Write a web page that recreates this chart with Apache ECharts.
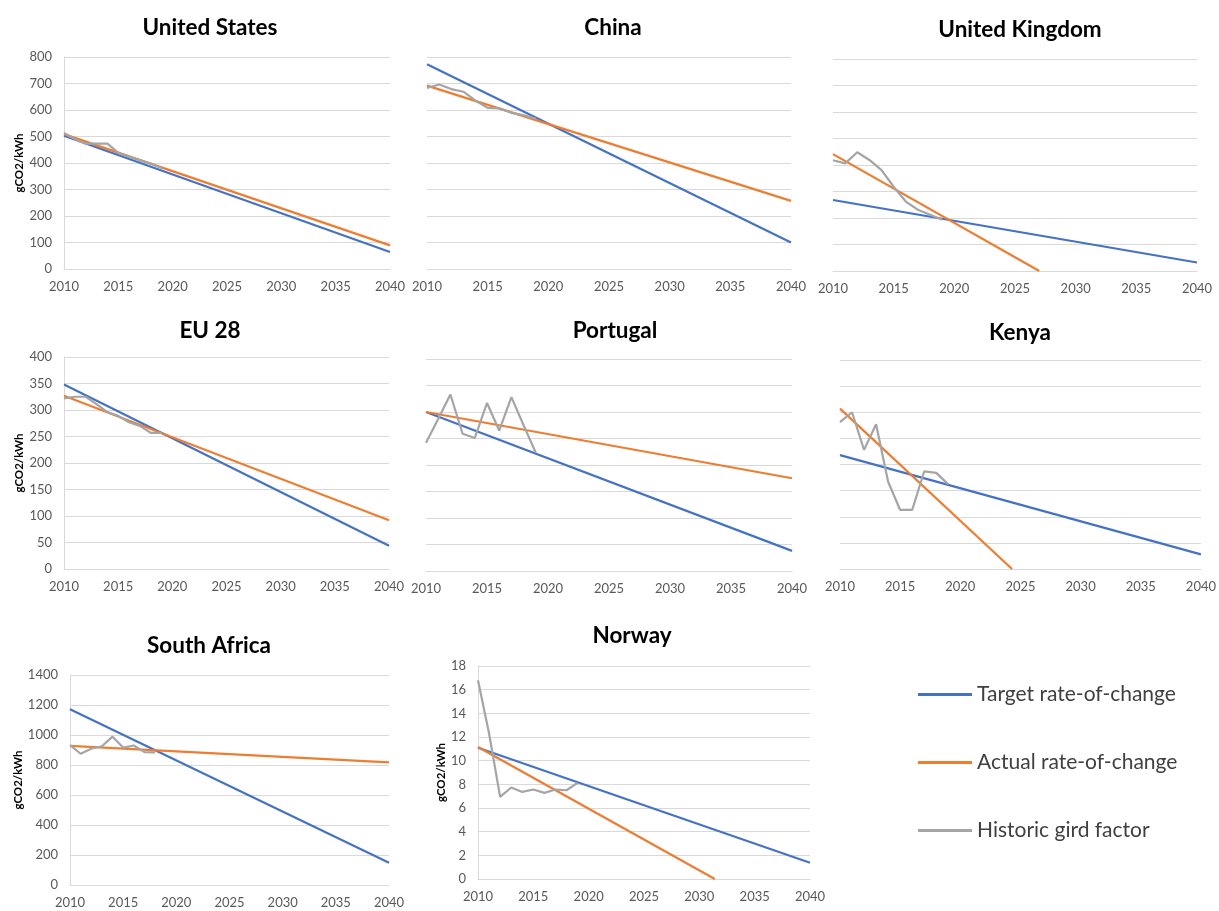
<!DOCTYPE html>
<html>
<head>
<meta charset="utf-8">
<script src="https://cdn.jsdelivr.net/npm/echarts@6/dist/echarts.min.js"></script>
<style>
html,body{margin:0;padding:0;background:#fff;}
#c{width:1219px;height:911px;}
</style>
</head>
<body>
<div id="c"></div>
<script>
// ---------- data ----------
const histYears = [2010, 2011, 2012, 2013, 2014, 2015, 2016, 2017, 2018, 2019];
const trendYears = [2010, 2040];
const xTicks = [2010, 2015, 2020, 2025, 2030, 2035, 2040];

const usHist = [513, 490, 473, 473, 473, 438, 423, 410, 398, 381];
const usTarget = [503, 64];
const usActual = [509, 89];
const usActualYears = [2010, 2040];

const cnHist = [683, 696, 679, 669, 635, 608, 606, 589, 580, 567];
const cnTarget = [773, 100];
const cnActual = [692, 257];
const cnActualYears = [2010, 2040];

const ukHist = [418, 406, 448, 419, 381, 318, 262, 231, 212, 193];
const ukTarget = [268, 32];
const ukActual = [441, 0];
const ukActualYears = [2010, 2027];

const euHist = [322, 325, 325, 311, 296, 289, 277, 270, 257, 257];
const euTarget = [348, 44];
const euActual = [327, 92];
const euActualYears = [2010, 2040];

const ptHist = [242, 287, 333, 259, 251, 317, 265, 328, 275, 223];
const ptTarget = [300, 38];
const ptActual = [300, 175];
const ptActualYears = [2010, 2040];

const keHist = [281, 300, 228, 277, 167, 113, 113, 187, 184, 162];
const keTarget = [218, 28];
const keActual = [307, 0];
const keActualYears = [2010, 2024.3];

const zaHistYears = [2010, 2011, 2012, 2013, 2014, 2015, 2016, 2017, 2018];
const zaHist = [932, 875, 909, 925, 989, 916, 930, 886, 884];
const zaTarget = [1171, 149];
const zaActual = [927, 818];
const zaActualYears = [2010, 2040];

const noHist = [16.8, 12.3, 6.94, 7.73, 7.36, 7.56, 7.28, 7.56, 7.5, 8.13];
const noTarget = [11.09, 1.38];
const noActual = [11.15, 0];
const noActualYears = [2010, 2031.4];

const titles = ['United States', 'China', 'United Kingdom', 'EU 28', 'Portugal', 'Kenya', 'South Africa', 'Norway'];
const seriesNames = ['Target rate-of-change', 'Actual rate-of-change', 'Historic gird factor'];
const yName = 'gCO2/kWh';

// ---------- layout ----------
const FONT = 'Lato';
const panels = [
  {title: titles[0], grid: {left: 64, top: 57, width: 326, height: 212}, tx: 205, ty: 11, y: [0, 800, 100], labels: true, hist: [histYears, usHist], target: usTarget, actual: [usActualYears, usActual]},
  {title: titles[1], grid: {left: 427, top: 57, width: 364, height: 212}, tx: 608, ty: 11, y: [0, 800, 100], labels: false, hist: [histYears, cnHist], target: cnTarget, actual: [cnActualYears, cnActual]},
  {title: titles[2], grid: {left: 833, top: 59, width: 364, height: 212}, tx: 1015, ty: 13, y: [0, 800, 100], labels: false, hist: [histYears, ukHist], target: ukTarget, actual: [ukActualYears, ukActual]},
  {title: titles[3], grid: {left: 64, top: 357, width: 325, height: 212}, tx: 205, ty: 314, y: [0, 400, 50], labels: true, hist: [histYears, euHist], target: euTarget, actual: [euActualYears, euActual]},
  {title: titles[4], grid: {left: 426, top: 359, width: 366, height: 212}, tx: 610, ty: 314, y: [0, 400, 50], labels: false, hist: [histYears, ptHist], target: ptTarget, actual: [ptActualYears, ptActual]},
  {title: titles[5], grid: {left: 840, top: 360, width: 363, height: 209}, tx: 1015, ty: 316, y: [0, 400, 50], labels: false, hist: [histYears, keHist], target: keTarget, actual: [keActualYears, keActual]},
  {title: titles[6], grid: {left: 70, top: 675, width: 319, height: 210}, tx: 204, ty: 629, y: [0, 1400, 200], labels: true, hist: [zaHistYears, zaHist], target: zaTarget, actual: [zaActualYears, zaActual]},
  {title: titles[7], grid: {left: 478, top: 666, width: 332, height: 213}, tx: 627, ty: 619, y: [0, 18, 2], labels: true, hist: [histYears, noHist], target: noTarget, actual: [noActualYears, noActual]}
];

const colors = ['#4472C4', '#ED7D31', '#A5A5A5'];
const pairs = (xs, ys) => xs.map((x, i) => [x, ys[i]]);

const option = {
  animation: false,
  backgroundColor: '#ffffff',
  title: [],
  grid: [],
  xAxis: [],
  yAxis: [],
  series: [],
  legend: {
    orient: 'vertical',
    left: 913,
    top: 679,
    itemWidth: 54,
    itemHeight: 3,
    itemGap: 47,
    icon: 'rect',
    data: seriesNames,
    textStyle: {fontFamily: FONT, fontSize: 21, color: '#404040', padding: [0, 0, 0, 0]}
  }
};

panels.forEach((p, i) => {
  option.title.push({
    text: p.title, left: p.tx, top: p.ty, textAlign: 'center',
    textStyle: {fontFamily: FONT, fontWeight: 'bold', fontSize: 22.5, color: '#000'}
  });
  option.grid.push(p.grid);
  option.xAxis.push({
    type: 'value', gridIndex: i, min: 2010, max: 2040, interval: 5,
    axisLine: {show: true, lineStyle: {color: '#d9d9d9', width: 1}},
    axisTick: {show: false},
    splitLine: {show: false},
    axisLabel: {fontFamily: FONT, fontSize: 13, color: '#595959', margin: 11,
      formatter: v => String(v), showMinLabel: true, showMaxLabel: true}
  });
  option.yAxis.push({
    type: 'value', gridIndex: i, min: p.y[0], max: p.y[1], interval: p.y[2],
    name: p.labels ? yName : '', nameLocation: 'middle', nameGap: i === 7 ? 30 : 37,
    nameTextStyle: {fontFamily: FONT, fontWeight: 'bold', fontSize: 11.5, color: '#000'},
    axisLine: {show: p.labels, lineStyle: {color: '#d9d9d9', width: 1}},
    axisTick: {show: false},
    splitLine: {show: true, lineStyle: {color: '#d9d9d9', width: 1}},
    axisLabel: {show: p.labels, fontFamily: FONT, fontSize: 13, color: '#595959', margin: 12,
      formatter: v => String(v)}
  });
  const common = {type: 'line', xAxisIndex: i, yAxisIndex: i, symbol: 'none', clip: true, silent: true};
  option.series.push(Object.assign({}, common, {
    name: seriesNames[0], data: pairs(trendYears, p.target),
    lineStyle: {color: colors[0], width: 2.2}, itemStyle: {color: colors[0]}
  }));
  option.series.push(Object.assign({}, common, {
    name: seriesNames[1], data: pairs(p.actual[0], p.actual[1]),
    lineStyle: {color: colors[1], width: 2.2}, itemStyle: {color: colors[1]}
  }));
  option.series.push(Object.assign({}, common, {
    name: seriesNames[2], data: pairs(p.hist[0], p.hist[1]),
    lineStyle: {color: colors[2], width: 2.2}, itemStyle: {color: colors[2]}
  }));
});

const chart = echarts.init(document.getElementById('c'), null, {renderer: 'canvas'});
chart.setOption(option);
</script>
</body>
</html>
